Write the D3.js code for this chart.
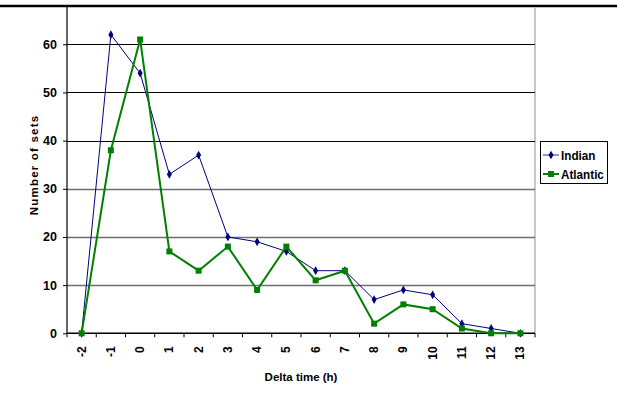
<!DOCTYPE html>
<html><head><meta charset="utf-8">
<script src="https://cdn.jsdelivr.net/npm/d3@7"></script>
<style>body{margin:0;background:#fff}svg{display:block}text{font-family:"Liberation Sans",Arial,sans-serif;font-weight:bold;fill:#000}</style>
</head><body>
<script>
const categories = ["-2","-1","0","1","2","3","4","5","6","7","8","9","10","11","12","13"];
const indian = [0,62,54,33,37,20,19,17,13,13,7,9,8,2,1,0];
const atlantic = [0,38,61,17,13,18,9,18,11,13,2,6,5,1,0,0];
const yTicks = [0,10,20,30,40,50,60];
const seriesNames = ["Indian","Atlantic"];

(function(){
const W=617,H=403;
const svg=d3.select("body").append("svg").attr("width",W).attr("height",H);
const pL=67, pR=535, pT=7, pB=333.3;
const x=d3.scaleBand().domain(categories).range([pL,pR]);
const y=d3.scaleLinear().domain([0,60]).range([pB,44.3]);

// top border
svg.append("line").attr("x1",0).attr("x2",W).attr("y1",6).attr("y2",6).attr("stroke","#000").attr("stroke-width",2.5);
// right gray border
svg.append("line").attr("x1",pR).attr("x2",pR).attr("y1",7).attr("y2",pB).attr("stroke","#c8c8c8").attr("stroke-width",2);

// gridlines
svg.append("g").selectAll("line").data(yTicks.filter(d=>d>0)).join("line")
  .attr("x1",pL).attr("x2",pR).attr("y1",d=>Math.round(y(d))+0.5).attr("y2",d=>Math.round(y(d))+0.5)
  .attr("stroke",d=>d>=40?"#000":"#6e6e6e").attr("stroke-width",d=>d>=40?1.2:1.5);

// y axis
const ya=svg.append("g").attr("transform",`translate(${pL},0)`)
  .call(d3.axisLeft(y).tickValues(yTicks).tickSize(4).tickPadding(6));
ya.select(".domain").remove();
ya.append("line").attr("x1",0).attr("x2",0).attr("y1",pT).attr("y2",pB).attr("stroke","#000").attr("stroke-width",1.2);
ya.selectAll("text").attr("font-size",12.5).attr("font-family","Liberation Sans, Arial").attr("font-weight","bold").attr("fill","#000");
ya.selectAll(".tick line").attr("stroke","#000");

// x axis
const xa=svg.append("g").attr("transform",`translate(0,${pB})`);
xa.append("line").attr("x1",pL).attr("x2",pR).attr("stroke","#000").attr("stroke-width",1.5);
const bounds=categories.map(c=>x(c)).concat([pR]);
xa.selectAll("line.t").data(bounds).join("line").attr("class","t")
  .attr("x1",d=>d).attr("x2",d=>d).attr("y1",0).attr("y2",4).attr("stroke","#000");
xa.selectAll("text.l").data(categories).join("text").attr("class","l")
  .attr("transform",d=>`translate(${x(d)+x.bandwidth()/2+4},13) rotate(-90)`)
  .attr("text-anchor","end").attr("font-size",12).text(d=>d);

// titles
svg.append("text").attr("x",301).attr("y",381).attr("text-anchor","middle").attr("font-size",11.5).text("Delta time (h)");
svg.append("text").attr("transform","translate(38,165) rotate(-90)").attr("text-anchor","middle")
  .attr("font-size",11.5).attr("letter-spacing","1.2px").text("Number of sets");

const cx=c=>x(c)+x.bandwidth()/2;
const line=d3.line().x((d,i)=>cx(categories[i])).y(d=>y(d));
// Indian
svg.append("path").attr("d",line(indian)).attr("fill","none").attr("stroke","#000080").attr("stroke-width",1);
const diamond=d3.symbol().type(d3.symbolDiamond).size(22);
svg.append("g").selectAll("path").data(indian).join("path")
  .attr("transform",(d,i)=>`translate(${cx(categories[i])},${y(d)})`).attr("d",diamond()).attr("fill","#000080");
// Atlantic
svg.append("path").attr("d",line(atlantic)).attr("fill","none").attr("stroke","#008000").attr("stroke-width",2);
svg.append("g").selectAll("rect").data(atlantic).join("rect")
  .attr("x",(d,i)=>cx(categories[i])-3).attr("y",d=>y(d)-3).attr("width",6).attr("height",6).attr("fill","#008000");

// legend
const lg=svg.append("g");
lg.append("rect").attr("x",540.5).attr("y",141.5).attr("width",67).attr("height",42).attr("fill","#fff").attr("stroke","#000").attr("stroke-width",1);
const ly=[155,174];
lg.append("line").attr("x1",543).attr("x2",559).attr("y1",ly[0]).attr("y2",ly[0]).attr("stroke","#5050b0").attr("stroke-width",1.2);
lg.append("path").attr("transform",`translate(551,${ly[0]})`).attr("d",diamond()).attr("fill","#000080");
lg.append("line").attr("x1",543).attr("x2",559).attr("y1",ly[1]).attr("y2",ly[1]).attr("stroke","#008000").attr("stroke-width",2);
lg.append("rect").attr("x",548).attr("y",ly[1]-3).attr("width",6).attr("height",6).attr("fill","#008000");
lg.selectAll("text").data(seriesNames).join("text")
  .attr("transform",(d,i)=>`translate(561,${ly[i]+4.5}) scale(0.9,1)`).attr("font-size",13).text(d=>d);
})();
</script>
</body></html>
